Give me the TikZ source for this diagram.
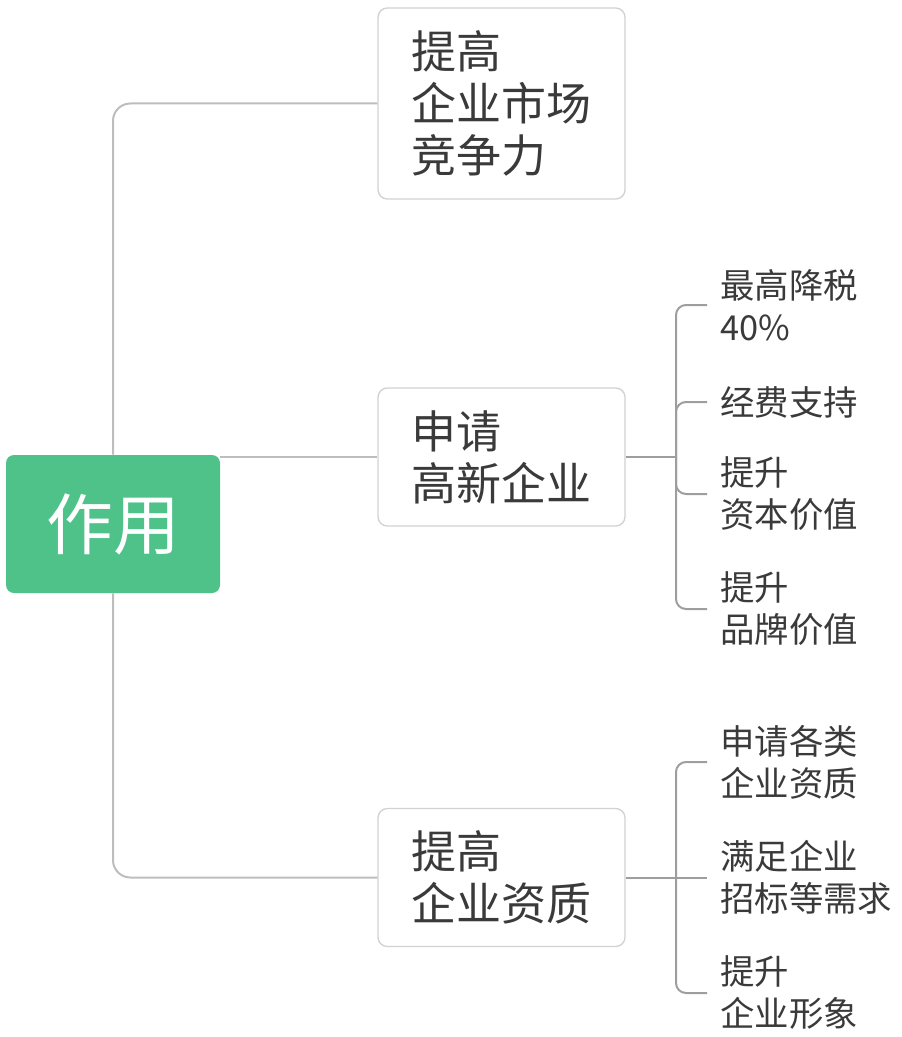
\documentclass[tikz,border=0pt]{standalone}
\usepackage{fontspec}
\setmainfont{Noto Sans CJK SC}
\usepackage{tikz}

\definecolor{wurzel}{HTML}{4FC28A}
\definecolor{schrift}{HTML}{3A3A3A}
\definecolor{rahmen}{HTML}{D2D2D2}
\definecolor{ast}{HTML}{BDBDBD}
\definecolor{zweig}{HTML}{9E9E9E}

\begin{document}
\begin{tikzpicture}[x=0.75pt, y=-0.75pt,
  wurzelbox/.style={fill=wurzel, rounded corners=6pt, minimum width=160.5pt, minimum height=103.5pt,
    text=white, font=\fontsize{50}{56}\selectfont},
  kasten/.style={draw=rahmen, line width=1pt, fill=white, rounded corners=7pt, minimum width=185.25pt,
    text width=135pt, inner xsep=25.1pt, align=left, text=schrift, font=\fontsize{33.75}{39}\selectfont},
  blatt/.style={anchor=west, inner xsep=9.75pt, inner ysep=0pt, align=left, text=schrift,
    font=\fontsize{25.8}{31.5}\selectfont},
  astlinie/.style={draw=ast, line width=1.5pt, rounded corners=13pt},
  zweiglinie/.style={draw=zweig, line width=1.5pt, rounded corners=7.5pt}]

\useasboundingbox (0,0) rectangle (901,1037);

% wurzel
\node[wurzelbox] (root) at (113,524) {作用};

% mittlere ebene
\node[kasten, minimum height=143.25pt] (b1) at (501.5,103.5) {提高\\企业市场\\竞争力};
\node[kasten, minimum height=103.5pt] (b2) at (501.5,457) {申请\\高新企业};
\node[kasten, minimum height=103.5pt] (b3) at (501.5,877.5) {提高\\企业资质};

% blaetter zu b2
\node[blatt] (l1) at (707,305) {最高降税\\40\%};
\node[blatt] (l2) at (707,402) {经费支持};
\node[blatt] (l3) at (707,494) {提升\\资本价值};
\node[blatt] (l4) at (707,609) {提升\\品牌价值};

% blaetter zu b3
\node[blatt] (m1) at (707,762) {申请各类\\企业资质};
\node[blatt] (m2) at (707,877.5) {满足企业\\招标等需求};
\node[blatt] (m3) at (707,993) {提升\\企业形象};

% aeste
\draw[astlinie] (root.north) |- (b1.west);
\draw[astlinie] (root.east |- b2.west) -- (b2.west);
\draw[astlinie] (root.south) |- (b3.west);

% klammern
\coordinate (j2) at (676,457);
\coordinate (j3) at (676,877.5);
\draw[zweiglinie] (b2.east) -- (j2);
\foreach \l in {l1,l2,l3,l4} {
\draw[zweiglinie] (j2) |- (\l.west);
}
\draw[zweiglinie] (b3.east) -- (m2.west);
\foreach \l in {m1,m3} {
\draw[zweiglinie] (j3) |- (\l.west);
}

\end{tikzpicture}
\end{document}
